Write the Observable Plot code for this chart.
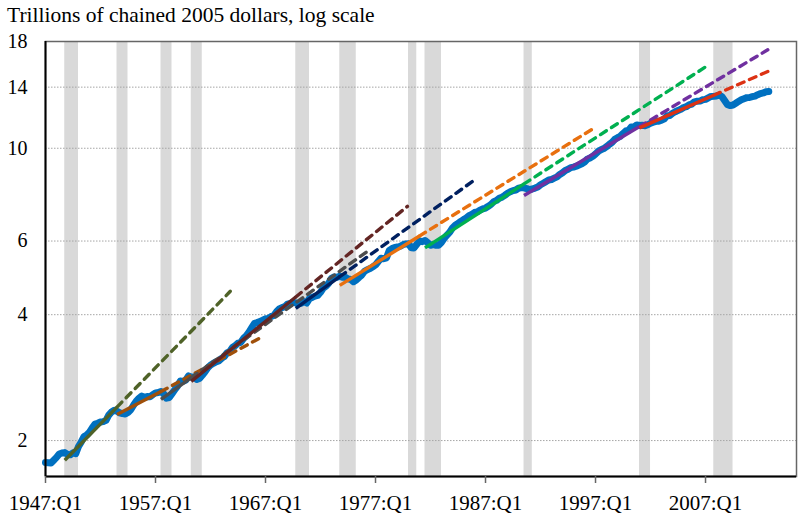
<!DOCTYPE html>
<html>
<head>
<meta charset="utf-8">
<script src="https://cdn.jsdelivr.net/npm/d3@7"></script>
<script src="https://cdn.jsdelivr.net/npm/@observablehq/plot@0.6"></script>
<style>
  body { margin: 0; background: #fff; }
  #title { height: 30px; line-height: 30px; padding-left: 7px; font-family: "Liberation Serif", serif; font-size: 21.5px; color: #000; white-space: nowrap; }
</style>
</head>
<body>
<div id="title">Trillions of chained 2005 dollars, log scale</div>
<div id="chart"></div>
<script>
// Real GDP, billions of chained 2005 dollars, quarterly from 1947:Q1
const startYear = 1947;
const gdpBillions = [
  1772, 1770, 1768, 1795,   // 1947
  1823, 1857, 1867, 1872,   // 1948
  1853, 1850, 1869, 1860,   // 1949
  1935, 1985, 2045, 2062,   // 1950
  2095, 2145, 2190, 2200,   // 1951
  2215, 2220, 2235, 2300,   // 1952
  2340, 2362, 2350, 2330,   // 1953
  2320, 2315, 2335, 2370,   // 1954
  2430, 2485, 2525, 2555,   // 1955
  2535, 2550, 2545, 2575,   // 1956
  2600, 2605, 2620, 2585,   // 1957
  2525, 2535, 2590, 2645,   // 1958
  2700, 2775, 2770, 2790,   // 1959
  2855, 2835, 2840, 2800,   // 1960
  2815, 2865, 2920, 2985,   // 1961
  3030, 3060, 3085, 3100,   // 1962
  3145, 3175, 3240, 3265,   // 1963
  3340, 3375, 3420, 3435,   // 1964
  3510, 3560, 3635, 3725,   // 1965
  3815, 3830, 3855, 3880,   // 1966
  3910, 3920, 3958, 3982,   // 1967
  4065, 4130, 4160, 4180,   // 1968
  4240, 4255, 4285, 4265,   // 1969
  4255, 4260, 4300, 4265,   // 1970
  4375, 4400, 4430, 4448,   // 1971
  4525, 4630, 4680, 4760,   // 1972
  4885, 4925, 4915, 4945,   // 1973
  4915, 4915, 4870, 4855,   // 1974
  4795, 4840, 4910, 4975,   // 1975
  5080, 5125, 5155, 5205,   // 1976
  5260, 5360, 5455, 5445,   // 1977
  5470, 5700, 5755, 5790,   // 1978
  5805, 5830, 5880, 5905,   // 1979
  5910, 5780, 5775, 5890,   // 1980
  6005, 5980, 6020, 5945,   // 1981
  5860, 5880, 5860, 5865,   // 1982
  5960, 6090, 6200, 6300,   // 1983
  6450, 6550, 6615, 6685,   // 1984
  6750, 6810, 6895, 6945,   // 1985
  7020, 7045, 7115, 7165,   // 1986
  7195, 7265, 7340, 7455,   // 1987
  7505, 7595, 7640, 7715,   // 1988
  7805, 7870, 7920, 7945,   // 1989
  8025, 8050, 8045, 8010,   // 1990
  7960, 7990, 8030, 8080,   // 1991
  8180, 8250, 8320, 8400,   // 1992
  8420, 8480, 8540, 8655,   // 1993
  8740, 8850, 8905, 8990,   // 1994
  9015, 9060, 9120, 9180,   // 1995
  9270, 9420, 9480, 9565,   // 1996
  9690, 9830, 9920, 9980,   // 1997
  10085, 10215, 10330, 10505, // 1998
  10600, 10680, 10845, 10995, // 1999
  11035, 11245, 11255, 11370, // 2000
  11335, 11355, 11320, 11380, // 2001
  11475, 11540, 11595, 11605, // 2002
  11665, 11760, 11960, 11980, // 2003
  12125, 12225, 12315, 12390, // 2004
  12515, 12570, 12695, 12755, // 2005
  12915, 12960, 12965, 13060, // 2006
  13090, 13200, 13305, 13320, // 2007
  13340, 13400, 13280, 12990, // 2008
  12710, 12650, 12690, 12810, // 2009
  12940, 13060, 13140, 13215, // 2010
  13225, 13285, 13330, 13430, // 2011
  13510, 13560, 13650, 13665  // 2012
];

// NBER recessions: peak and end of trough quarter (decimal years)
const recessionStart = [1948.75, 1953.5, 1957.5, 1960.25, 1969.75, 1973.75, 1980.0, 1981.5, 1990.5, 2001.0, 2007.75];
const recessionEnd   = [1950.0, 1954.5, 1958.5, 1961.25, 1971.0, 1975.25, 1980.75, 1983.0, 1991.25, 2002.0, 2009.5];

// Peak-to-peak trend lines (trillions): start, end of solid part, end of dashed projection
const trendColors     = ["#4f6228", "#a0500a", "#4d4d4d", "#632523", "#002060", "#e8700f", "#00b050", "#7030a0", "#dc3214"];
const trendStartYear  = [1948.75, 1953.5, 1957.5, 1960.25, 1969.75, 1973.75, 1981.5, 1990.5, 2001.0];
const trendStartValue = [1.794, 2.31, 2.51, 2.77, 4.14, 4.70, 5.78, 7.71, 11.19];
const trendBreakYear  = [1953.5, 1957.5, 1960.25, 1969.75, 1973.75, 1981.0, 1990.5, 2001.0, 2007.75];
const trendBreakValue = [2.405, 2.62, 2.83, 4.41, 4.93, 6.17, 8.22, 11.27, 13.39];
const trendEndYear    = [1963.8, 1966.6, 1976.15, 1979.9, 1986.2, 1997.0, 2007.3, 2012.66, 2012.66];
const trendEndValue   = [4.55, 3.53, 5.64, 7.26, 8.47, 11.23, 15.83, 17.2, 15.26];

const xTickYears = [1947, 1957, 1967, 1977, 1987, 1997, 2007];
const xTickLabels = ["1947:Q1", "1957:Q1", "1967:Q1", "1977:Q1", "1987:Q1", "1997:Q1", "2007:Q1"];
const yTicks = [2, 4, 6, 10, 14, 18];
const yGrid = [2, 4, 6, 10, 14];

// tables built from the arrays above
const series = gdpBillions.map((v, i) => ({t: startYear + i / 4, v: v / 1000}));
const recessions = recessionStart.map((s, i) => ({start: s, end: recessionEnd[i]}));
const solid = [], dashed = [];
trendColors.forEach((c, i) => {
  solid.push({id: i, c, t: trendStartYear[i], v: trendStartValue[i]});
  solid.push({id: i, c, t: trendBreakYear[i], v: trendBreakValue[i]});
  dashed.push({id: i, c, t: trendBreakYear[i], v: trendBreakValue[i]});
  dashed.push({id: i, c, t: trendEndYear[i], v: trendEndValue[i]});
});
const labelOf = new Map(xTickYears.map((y, i) => [y, xTickLabels[i]]));

const yMin = 1.641, yMax = 18, xMin = 1947, xMax = 2015.27;

const chart = Plot.plot({
  width: 807,
  height: 487,
  marginTop: 11,
  marginLeft: 45,
  marginRight: 11,
  marginBottom: 41,
  x: {domain: [xMin, xMax]},
  y: {type: "log", domain: [yMin, yMax]},
  color: {type: "identity"},
  style: {fontFamily: "Liberation Serif", fontSize: "20px", background: "white", color: "black", overflow: "visible"},
  marks: [
    Plot.rect(recessions, {x1: "start", x2: "end", y1: yMin, y2: yMax, fill: "#d9d9d9"}),
    Plot.ruleY(yGrid, {stroke: "#a6a6a6", strokeDasharray: "1.5,1.5", strokeWidth: 1}),
    Plot.line(series, {x: "t", y: "v", stroke: "#0070c0", strokeWidth: 7, strokeLinejoin: "round", strokeLinecap: "round"}),
    Plot.line(dashed, {x: "t", y: "v", z: "id", stroke: "c", strokeWidth: 3.4, strokeDasharray: "7,6", strokeLinecap: "round"}),
    Plot.line(solid, {x: "t", y: "v", z: "id", stroke: "c", strokeWidth: 3.4, strokeLinecap: "butt"}),
    Plot.frame({stroke: "#666", strokeWidth: 1.5}),
    Plot.ruleX([xMin], {stroke: "black", strokeWidth: 2}),
    Plot.ruleY([yMin], {stroke: "black", strokeWidth: 2}),
    Plot.axisX(xTickYears, {tickFormat: d => labelOf.get(d), tickSize: 7, tickPadding: 12, stroke: "#666", strokeWidth: 1.5, fontSize: 21, label: null}),
    Plot.axisY(yTicks, {tickSize: 0, tickPadding: 18, fontSize: 20, label: null})
  ]
});
document.getElementById("chart").appendChild(chart);
</script>
</body>
</html>
